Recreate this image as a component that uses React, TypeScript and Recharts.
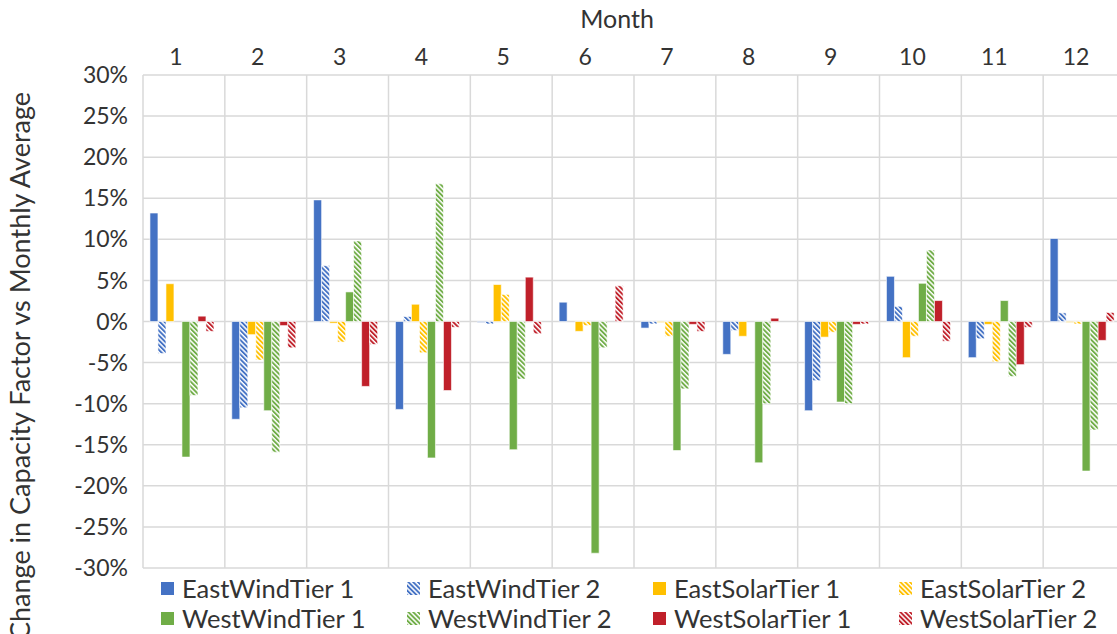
import { BarChart, Bar, XAxis, YAxis, CartesianGrid, Legend } from "recharts";

const months = ["1", "2", "3", "4", "5", "6", "7", "8", "9", "10", "11", "12"];

// values in percent
const eastWindT1 = [13.2, -11.9, 14.8, -10.7, -0.1, 2.35, -0.8, -4.0, -10.85, 5.5, -4.4, 10.1];
const eastWindT2 = [-3.9, -10.5, 6.8, 0.6, -0.3, 0, -0.3, -1.1, -7.2, 1.85, -2.1, 1.05];
const eastSolarT1 = [4.6, -1.6, -0.2, 2.1, 4.5, -1.2, -0.1, -1.8, -1.9, -4.4, -0.35, -0.1];
const eastSolarT2 = [0, -4.7, -2.5, -3.8, 3.3, -0.5, -1.8, 0, -1.3, -1.8, -4.9, -0.3];
const westWindT1 = [-16.5, -10.85, 3.6, -16.6, -15.6, -28.2, -15.7, -17.2, -9.8, 4.65, 2.55, -18.2];
const westWindT2 = [-9.0, -15.9, 9.8, 16.75, -7.0, -3.2, -8.2, -10.0, -10.0, 8.7, -6.7, -13.2];
const westSolarT1 = [0.65, -0.5, -7.9, -8.4, 5.4, 0, -0.35, 0.4, -0.35, 2.55, -5.25, -2.3];
const westSolarT2 = [-1.2, -3.2, -2.8, -0.7, -1.5, 4.35, -1.2, 0, -0.3, -2.4, -0.7, 1.1];

const yTicks = [-30, -25, -20, -15, -10, -5, 0, 5, 10, 15, 20, 25, 30];

const BLUE = "#4472C4";
const GOLD = "#FFC000";
const GREEN = "#70AD47";
const RED = "#C0202A";

const series = [
  { key: "ewt1", name: "EastWindTier 1", color: BLUE, hatch: false },
  { key: "ewt2", name: "EastWindTier 2", color: BLUE, hatch: true },
  { key: "est1", name: "EastSolarTier 1", color: GOLD, hatch: false },
  { key: "est2", name: "EastSolarTier 2", color: GOLD, hatch: true },
  { key: "wwt1", name: "WestWindTier 1", color: GREEN, hatch: false },
  { key: "wwt2", name: "WestWindTier 2", color: GREEN, hatch: true },
  { key: "wst1", name: "WestSolarTier 1", color: RED, hatch: false },
  { key: "wst2", name: "WestSolarTier 2", color: RED, hatch: true },
];

const data = months.map((m, i) => ({
  month: m,
  ewt1: eastWindT1[i],
  ewt2: eastWindT2[i],
  est1: eastSolarT1[i],
  est2: eastSolarT2[i],
  wwt1: westWindT1[i],
  wwt2: westWindT2[i],
  wst1: westSolarT1[i],
  wst2: westSolarT2[i],
}));

const FONT = "Lato, 'Noto Sans', sans-serif";
const TEXT = "#333333";

function Hatch({ id, color }: { id: string; color: string }) {
  return (
    <pattern id={id} width="3.4" height="3.4" patternUnits="userSpaceOnUse" patternTransform="rotate(-45)">
      <rect width="3.4" height="3.4" fill="#ffffff" />
      <rect width="1.9" height="3.4" fill={color} />
    </pattern>
  );
}

// legend laid out like the Excel one: 4 columns x 2 rows
const legendOrder = [
  ["ewt1", "ewt2", "est1", "est2"],
  ["wwt1", "wwt2", "wst1", "wst2"],
];

function LegendBox() {
  const colX = [161, 407, 653, 899];
  const rowY = [20, 50];
  return (
    <div style={{ position: "relative", height: 62, fontFamily: FONT, fontSize: 25.5, color: TEXT }}>
      {legendOrder.map((row, r) =>
        row.map((k, c) => {
          const s = series.find((x) => x.key === k)!;
          return (
            <div
              key={k}
              style={{
                position: "absolute",
                left: colX[c],
                top: rowY[r] - 15,
                height: 30,
                display: "flex",
                alignItems: "center",
                whiteSpace: "nowrap",
              }}
            >
              <svg width={13} height={13} style={{ marginRight: 8 }}>
                <defs>
                  <Hatch id={"lg-" + k} color={s.color} />
                </defs>
                <rect width={13} height={13} fill={s.hatch ? `url(#lg-${k})` : s.color} />
              </svg>
              <span>{s.name}</span>
            </div>
          );
        })
      )}
    </div>
  );
}

export default function App() {
  return (
    <div style={{ position: "fixed", left: 0, top: 0, width: 1117, height: 634, overflow: "hidden", background: "#fff" }}>
      <BarChart
        width={1130}
        height={634}
        data={data}
        margin={{ top: 0, right: 5, bottom: 4, left: 0 }}
        barGap={0}
        barCategoryGap="8.5%"
      >
        <defs>
          {series
            .filter((s) => s.hatch)
            .map((s) => (
              <Hatch key={s.key} id={"h-" + s.key} color={s.color} />
            ))}
        </defs>
        <CartesianGrid
          stroke="#d9d9d9"
          strokeWidth={1.5}
          verticalCoordinatesGenerator={({ offset }: any) =>
            months.map((_, i) => offset.left + (i * offset.width) / months.length).concat(offset.left + offset.width)
          }
        />
        <XAxis
          dataKey="month"
          orientation="top"
          height={75}
          axisLine={false}
          tickLine={false}
          tickSize={0}
          tickMargin={10}
          interval={0}
          tick={{ fill: TEXT, fontSize: 23, fontFamily: FONT, dx: -8 }}
          label={{
            content: () => (
              <text x={617} y={28} textAnchor="middle" fill={TEXT} fontSize={25} fontFamily={FONT}>
                Month
              </text>
            ),
          }}
        />
        <YAxis
          width={143}
          domain={[-30, 30]}
          ticks={yTicks}
          interval={0}
          axisLine={false}
          tickLine={false}
          tickSize={0}
          tickMargin={15}
          tickFormatter={(v: number) => `${v}%`}
          tick={{ fill: TEXT, fontSize: 23, fontFamily: FONT }}
          label={{
            content: () => (
              <text
                x={30}
                y={92}
                transform="rotate(-90 30 92)"
                textAnchor="end"
                fill={TEXT}
                fontSize={27}
                fontFamily={FONT}
              >
                Change in Capacity Factor vs Monthly Average
              </text>
            ),
          }}
        />
        <Legend verticalAlign="bottom" content={() => <LegendBox />} />
        {series.map((s) => (
          <Bar
            key={s.key}
            dataKey={s.key}
            name={s.name}
            fill={s.hatch ? `url(#h-${s.key})` : s.color}
            stroke="#ffffff"
            strokeWidth={0.6}
            isAnimationActive={false}
          />
        ))}
      </BarChart>
    </div>
  );
}
